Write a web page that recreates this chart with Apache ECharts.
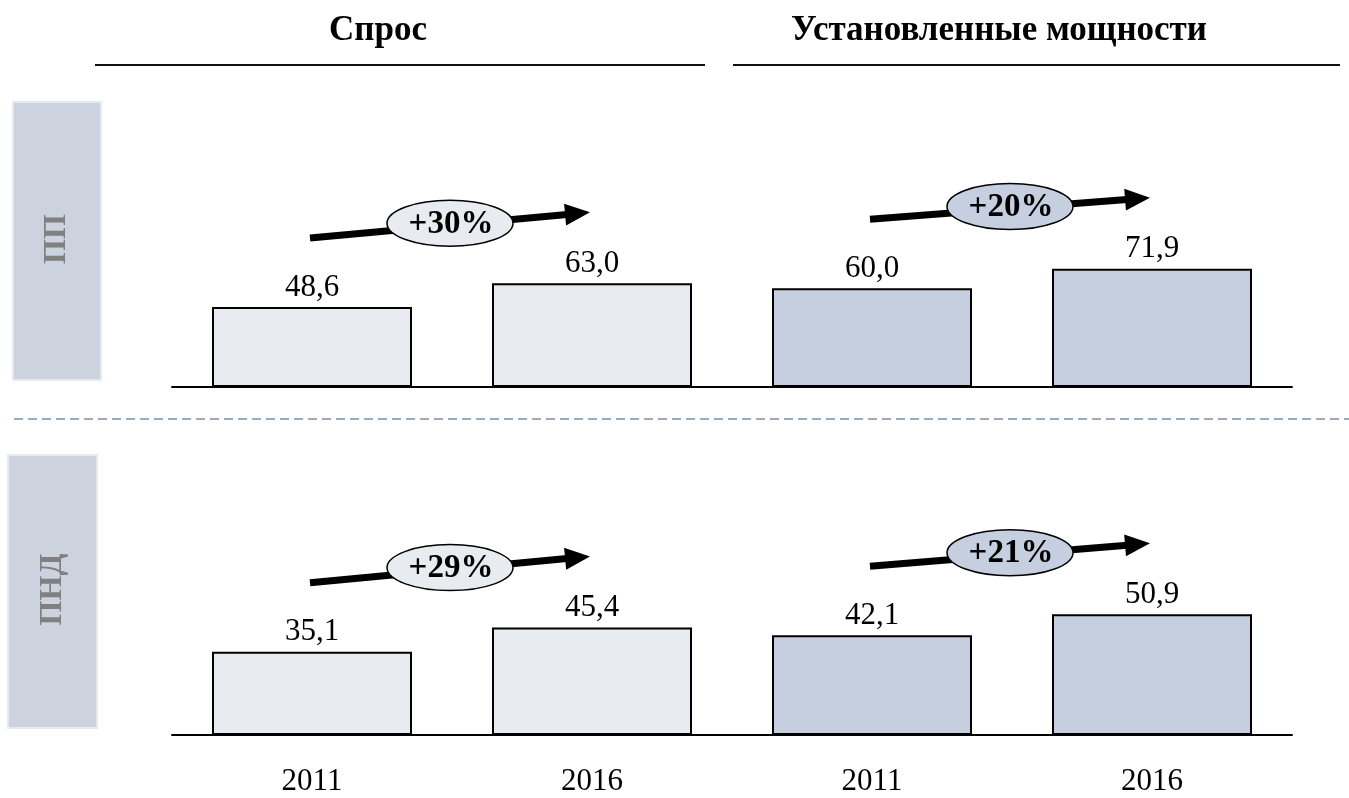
<!DOCTYPE html>
<html>
<head>
<meta charset="utf-8">
<script src="https://cdn.jsdelivr.net/npm/echarts@6/dist/echarts.min.js"></script>
<style>
  html, body { margin: 0; padding: 0; background: #fff; }
  #chart { width: 1349px; height: 798px; }
</style>
</head>
<body>
<div id="chart"></div>
<script>
// данные
var years = ['2011', '2016', '2011', '2016']
var ppValues = [48.6, 63.0, 60.0, 71.9]
var pndValues = [35.1, 45.4, 42.1, 50.9]
var growthLabels = [['+30%', '+20%'], ['+29%', '+21%']]
var colTitles = ['Спрос', 'Установленные мощности']
var rowTitles = ['ПП', 'ПНД']

var lightFill = '#e8ebf0'
var blueFill = '#c5cfe0'
var barColors = [lightFill, lightFill, blueFill, blueFill]
var serif = "'Liberation Serif', 'Times New Roman', serif"

var fmt = function(v) {
    return v.toFixed(1).replace('.', ',')
}

var makeData = function(vals) {
    var out = []
    for (var i = 0; i < vals.length; i++) {
        out.push({
            value: vals[i],
            itemStyle: { color: barColors[i] }
        })
    }
    return out
}

var makeSeries = function(idx, vals) {
    return {
        type: 'bar',
        xAxisIndex: idx,
        yAxisIndex: idx,
        barWidth: 200,
        data: makeData(vals),
        itemStyle: { borderColor: '#000', borderWidth: 2 },
        label: {
            show: true,
            position: 'top',
            distance: 4,
            color: '#000',
            fontFamily: serif,
            fontSize: 31,
            formatter: function(p) { return fmt(p.value) }
        },
        silent: true,
        animation: false
    }
}

var makeXAxis = function(idx, showLabels) {
    return {
        type: 'category',
        gridIndex: idx,
        data: years,
        axisLine: { lineStyle: { color: '#000', width: 2 } },
        axisTick: { show: false },
        axisLabel: {
            show: showLabels,
            margin: 31,
            color: '#000',
            fontFamily: serif,
            fontSize: 31
        }
    }
}

var makeYAxis = function(idx) {
    return {
        type: 'value',
        gridIndex: idx,
        min: 0,
        max: 100,
        show: false,
        splitLine: { show: false }
    }
}

var myChart = echarts.init(document.getElementById('chart'))
var option = {
    backgroundColor: '#fff',
    animation: false,
    grid: [
        { left: 172, right: 57, top: 222.5, height: 164.5 },
        { left: 172, right: 57, top: 498, height: 237 }
    ],
    xAxis: [makeXAxis(0, false), makeXAxis(1, true)],
    yAxis: [makeYAxis(0), makeYAxis(1)],
    series: [makeSeries(0, ppValues), makeSeries(1, pndValues)]
}
myChart.setOption(option)

// аннотации: стрелки с эллипсами над парами столбцов
var graphics = []

var addArrow = function(gridIdx, i1, i2, vals, label, fill) {
    var p1 = myChart.convertToPixel({ xAxisIndex: gridIdx, yAxisIndex: gridIdx }, [i1, vals[i1]])
    var p2 = myChart.convertToPixel({ xAxisIndex: gridIdx, yAxisIndex: gridIdx }, [i2, vals[i2]])
    var x1 = p1[0] - 2, y1 = p1[1] - 69
    var x2 = p2[0] - 2, y2 = p2[1] - 71
    var ang = Math.atan2(y2 - y1, x2 - x1)
    var len = Math.sqrt((x2 - x1) * (x2 - x1) + (y2 - y1) * (y2 - y1))
    var head = 25
    graphics.push({
        type: 'group',
        x: x1,
        y: y1,
        rotation: -ang,
        silent: true,
        children: [{
            type: 'line',
            shape: { x1: 0, y1: 0, x2: len - head + 2, y2: 0 },
            style: { stroke: '#000', lineWidth: 7 }
        }, {
            type: 'polygon',
            shape: { points: [[len - head, -11], [len, 0], [len - head, 11]] },
            style: { fill: '#000' }
        }]
    })
    var cx = (x1 + x2) / 2
    var cy = (y1 + y2) / 2 - 2
    graphics.push({
        type: 'ellipse',
        shape: { cx: cx, cy: cy, rx: 63, ry: 23 },
        style: { fill: fill, stroke: '#000', lineWidth: 1.5 },
        silent: true
    })
    graphics.push({
        type: 'text',
        x: cx + 1,
        y: cy + 1,
        silent: true,
        style: {
            text: label,
            fill: '#000',
            font: 'bold 33px ' + serif,
            align: 'center',
            verticalAlign: 'middle'
        }
    })
}

addArrow(0, 0, 1, ppValues, growthLabels[0][0], lightFill)
addArrow(0, 2, 3, ppValues, growthLabels[0][1], blueFill)
addArrow(1, 0, 1, pndValues, growthLabels[1][0], lightFill)
addArrow(1, 2, 3, pndValues, growthLabels[1][1], blueFill)

// заголовки колонок
var titleX = [378, 999]
var lineSpans = [[95, 705], [733, 1340]]
for (var c = 0; c < 2; c++) {
    graphics.push({
        type: 'text',
        x: titleX[c],
        y: 31,
        silent: true,
        style: {
            text: colTitles[c],
            fill: '#000',
            font: 'bold 35px ' + serif,
            align: 'center',
            verticalAlign: 'middle'
        }
    })
    graphics.push({
        type: 'line',
        silent: true,
        shape: { x1: lineSpans[c][0], y1: 65, x2: lineSpans[c][1], y2: 65 },
        style: { stroke: '#111', lineWidth: 2 }
    })
}

// подписи строк
var boxes = [[13, 102, 88, 278], [8, 455, 89, 273]]
for (var r = 0; r < 2; r++) {
    var b = boxes[r]
    graphics.push({
        type: 'rect',
        silent: true,
        shape: { x: b[0], y: b[1], width: b[2], height: b[3] },
        style: { fill: '#ccd2de', stroke: '#e6e9ef', lineWidth: 2 }
    })
    graphics.push({
        type: 'text',
        silent: true,
        x: b[0] + b[2] / 2,
        y: b[1] + b[3] / 2 - 2,
        rotation: Math.PI / 2,
        style: {
            text: rowTitles[r],
            fill: '#808080',
            font: 'bold 32px ' + serif,
            align: 'center',
            verticalAlign: 'middle'
        }
    })
}

// разделитель
graphics.push({
    type: 'line',
    silent: true,
    shape: { x1: 14, y1: 419, x2: 1349, y2: 419 },
    style: { stroke: '#9aabc3', lineWidth: 2, lineDash: [9, 5] }
})

myChart.setOption({ graphic: graphics })
</script>
</body>
</html>
